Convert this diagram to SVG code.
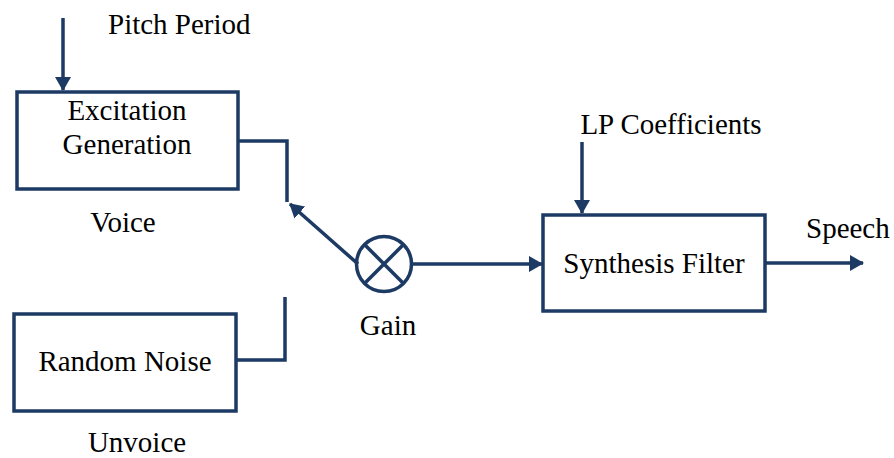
<svg xmlns="http://www.w3.org/2000/svg" width="894" height="458" viewBox="0 0 894 458">
<defs>
<style>
.box{fill:#fff;stroke:#1c3a63;stroke-width:3.5}
.ln{fill:none;stroke:#1c3a63;stroke-width:3.5}
.t{font-family:'Liberation Serif','DejaVu Serif',serif;font-size:29px;fill:#000}
</style>
<marker id="ah" viewBox="0 0 14 16" refX="13" refY="8" markerWidth="14" markerHeight="16" markerUnits="userSpaceOnUse" orient="auto">
<path d="M0,0 L14,8 L0,16 Z" fill="#1c3a63"/>
</marker>
</defs>
<rect width="894" height="458" fill="#fff"/>
<g id="connectors">
<line class="ln" x1="63" y1="18" x2="63" y2="90" marker-end="url(#ah)"/>
<polyline class="ln" points="238,141 287,141 287,202"/>
<polyline class="ln" points="237,360 285,360 285,297"/>
<line class="ln" x1="358" y1="264" x2="290" y2="204" marker-end="url(#ah)"/>
<line class="ln" x1="413" y1="264" x2="542" y2="264" marker-end="url(#ah)"/>
<line class="ln" x1="582" y1="142" x2="582" y2="213" marker-end="url(#ah)"/>
<line class="ln" x1="766" y1="263" x2="863" y2="263" marker-end="url(#ah)"/>
</g>
<g id="pitch-label"><text class="t" x="108" y="34">Pitch Period</text></g>
<g id="excitation">
<rect class="box" x="17" y="92" width="221" height="97"/>
<text class="t" x="127" y="120" text-anchor="middle">Excitation</text>
<text class="t" x="127" y="154" text-anchor="middle">Generation</text>
</g>
<g id="voice-label"><text class="t" x="123" y="232" text-anchor="middle">Voice</text></g>
<g id="noise">
<rect class="box" x="14" y="314" width="222" height="97"/>
<text class="t" x="125" y="371" text-anchor="middle">Random Noise</text>
</g>
<g id="unvoice-label"><text class="t" x="137" y="452" text-anchor="middle">Unvoice</text></g>
<g id="gain">
<circle class="ln" cx="384" cy="264" r="27.5"/>
<line class="ln" x1="364.5" y1="244.5" x2="403.5" y2="283.5"/>
<line class="ln" x1="403.5" y1="244.5" x2="364.5" y2="283.5"/>
<text class="t" x="388" y="335" text-anchor="middle">Gain</text>
</g>
<g id="lp-label"><text class="t" x="671" y="134" text-anchor="middle">LP Coefficients</text></g>
<g id="synthesis">
<rect class="box" x="543" y="215" width="222" height="96"/>
<text class="t" x="654" y="273" text-anchor="middle">Synthesis Filter</text>
</g>
<g id="speech-label"><text class="t" x="806" y="238">Speech</text></g>
</svg>
